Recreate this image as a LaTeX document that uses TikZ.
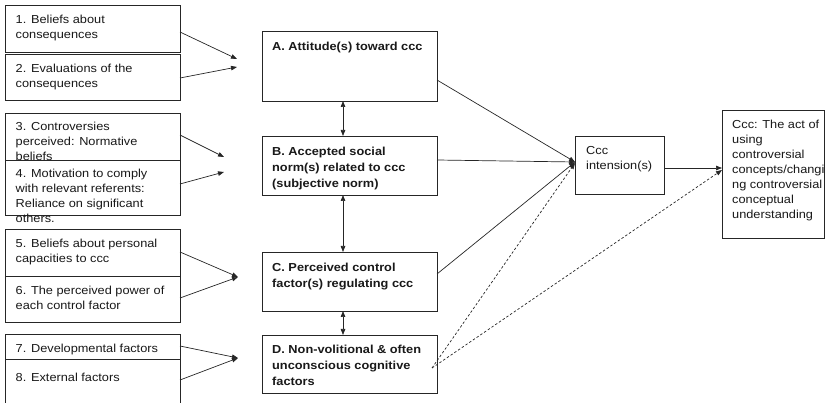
\documentclass[tikz,border=0pt]{standalone}
\usepackage{fontspec}
\setmainfont{Liberation Sans}[FakeStretch=1.1]
\usetikzlibrary{arrows.meta}
\begin{document}
\begin{tikzpicture}[x=1pt,y=-1pt,
  box/.style={draw=black!85, line width=0.7pt, fill=white, inner sep=0pt, outer sep=0pt, anchor=north west, rectangle},
  lbl/.style={anchor=north west, inner sep=0pt, align=left, font=\fontsize{11.6}{15}\selectfont, text=black!90},
  blbl/.style={lbl, font=\fontsize{11.6}{16}\selectfont\bfseries},
  conn/.style={draw=black!85, line width=0.7pt, -{Triangle[length=6pt,width=4.5pt]}},
  dconn/.style={conn, dash pattern=on 2.5pt off 2pt},
  biconn/.style={draw=black!85, line width=0.7pt, {Triangle[length=6pt,width=4.5pt]}-{Triangle[length=6pt,width=4.5pt]}}
]
\useasboundingbox (0,0) rectangle (825,403);
\newcommand\fs{\rule{0pt}{12pt}}
% left column
\node[box, minimum width=175, minimum height=47] (b1) at (5,5) {};
\node[lbl] (t1) at (15.5,11) {\fs 1. Beliefs about\\consequences};
\node[box, minimum width=175, minimum height=46] (b2) at (5,54) {};
\node[lbl] (t2) at (15.5,60) {\fs 2. Evaluations of the\\consequences};
\node[box, minimum width=175, minimum height=50] (b3) at (5,113) {};
\node[lbl] (t3) at (15.5,118) {\fs 3. Controversies\\perceived: Normative\\beliefs};
\node[box, minimum width=175, minimum height=55.5] (b4) at (5,160) {};
\node[lbl] (t4) at (15.5,165) {\fs 4. Motivation to comply\\with relevant referents:\\Reliance on significant\\others.};
\node[box, minimum width=175, minimum height=47] (b5) at (5,229) {};
\node[lbl] (t5) at (15.5,235) {\fs 5. Beliefs about personal\\capacities to ccc};
\node[box, minimum width=175, minimum height=46] (b6) at (5,276) {};
\node[lbl] (t6) at (15.5,282) {\fs 6. The perceived power of\\each control factor};
\node[box, minimum width=175, minimum height=25] (b7) at (5,334) {};
\node[lbl] (t7) at (15.5,340) {\fs 7. Developmental factors};
\node[box, minimum width=175, minimum height=46] (b8) at (5,359) {};
\node[lbl] (t8) at (15.5,369) {\fs 8. External factors};
% middle column
\node[box, minimum width=175, minimum height=70] (A) at (262,31) {};
\node[blbl] (tA) at (272,38) {\fs A. Attitude(s) toward ccc};
\node[box, minimum width=175, minimum height=59] (B) at (262,136) {};
\node[blbl] (tB) at (272,143) {\fs B. Accepted social\\norm(s) related to ccc\\(subjective norm)};
\node[box, minimum width=175, minimum height=59] (C) at (262,252) {};
\node[blbl] (tC) at (272,259) {\fs C. Perceived control\\factor(s) regulating ccc};
\node[box, minimum width=175, minimum height=58] (D) at (262,335) {};
\node[blbl] (tD) at (272,341) {\fs D. Non-volitional \& often\\unconscious cognitive\\factors};
% right
\node[box, minimum width=89, minimum height=58] (ccc) at (575,136) {};
\node[lbl] (tccc) at (586,142) {\fs Ccc\\intension(s)};
\node[box, minimum width=102, minimum height=128] (fin) at (722,110) {};
\node[lbl] (tfin) at (732,116) {\fs Ccc: The act of\\using\\controversial\\concepts/changi\\ng controversial\\conceptual\\understanding};
% convergence points
\coordinate (p1) at (237,59);
\coordinate (p2) at (237,67);
\coordinate (p3) at (224,157);
\coordinate (p4) at (224,172);
\coordinate (p56) at (238,277);
\coordinate (p78) at (238,358);
% left connectors
\draw[conn] (b1.east |- 0,32) -- (p1);
\draw[conn] (b2.east |- 0,78) -- (p2);
\draw[conn] (b3.east |- 0,135) -- (p3);
\draw[conn] (b4.east |- 0,184) -- (p4);
\draw[conn] (b5.east |- 0,252) -- (p56);
\draw[conn] (b6.east |- 0,298) -- (p56);
\draw[conn] (b7.east |- 0,346) -- (p78);
\draw[conn] (b8.east |- 0,380) -- (p78);
% middle vertical arrows
\draw[biconn] (A.south -| 343,0) -- (B.north -| 343,0);
\draw[biconn] (B.south -| 343,0) -- (C.north -| 343,0);
\draw[biconn] (C.south -| 343,0) -- (D.north -| 343,0);
% to intension
\draw[conn] (A.east |- 0,80) -- (ccc.west |- 0,162);
\draw[conn] (B.east |- 0,160) -- (ccc.west |- 0,162);
\draw[conn] (C.east |- 0,274) -- (ccc.west |- 0,162);
\draw[dconn] ([xshift=-5pt]D.east |- 0,368) -- (ccc.west |- 0,163);
% to final
\draw[conn] (ccc.east |- 0,168) -- (fin.west |- 0,168);
\draw[dconn] ([xshift=-5pt]D.east |- 0,368) -- (fin.west |- 0,170);
\end{tikzpicture}
\end{document}
